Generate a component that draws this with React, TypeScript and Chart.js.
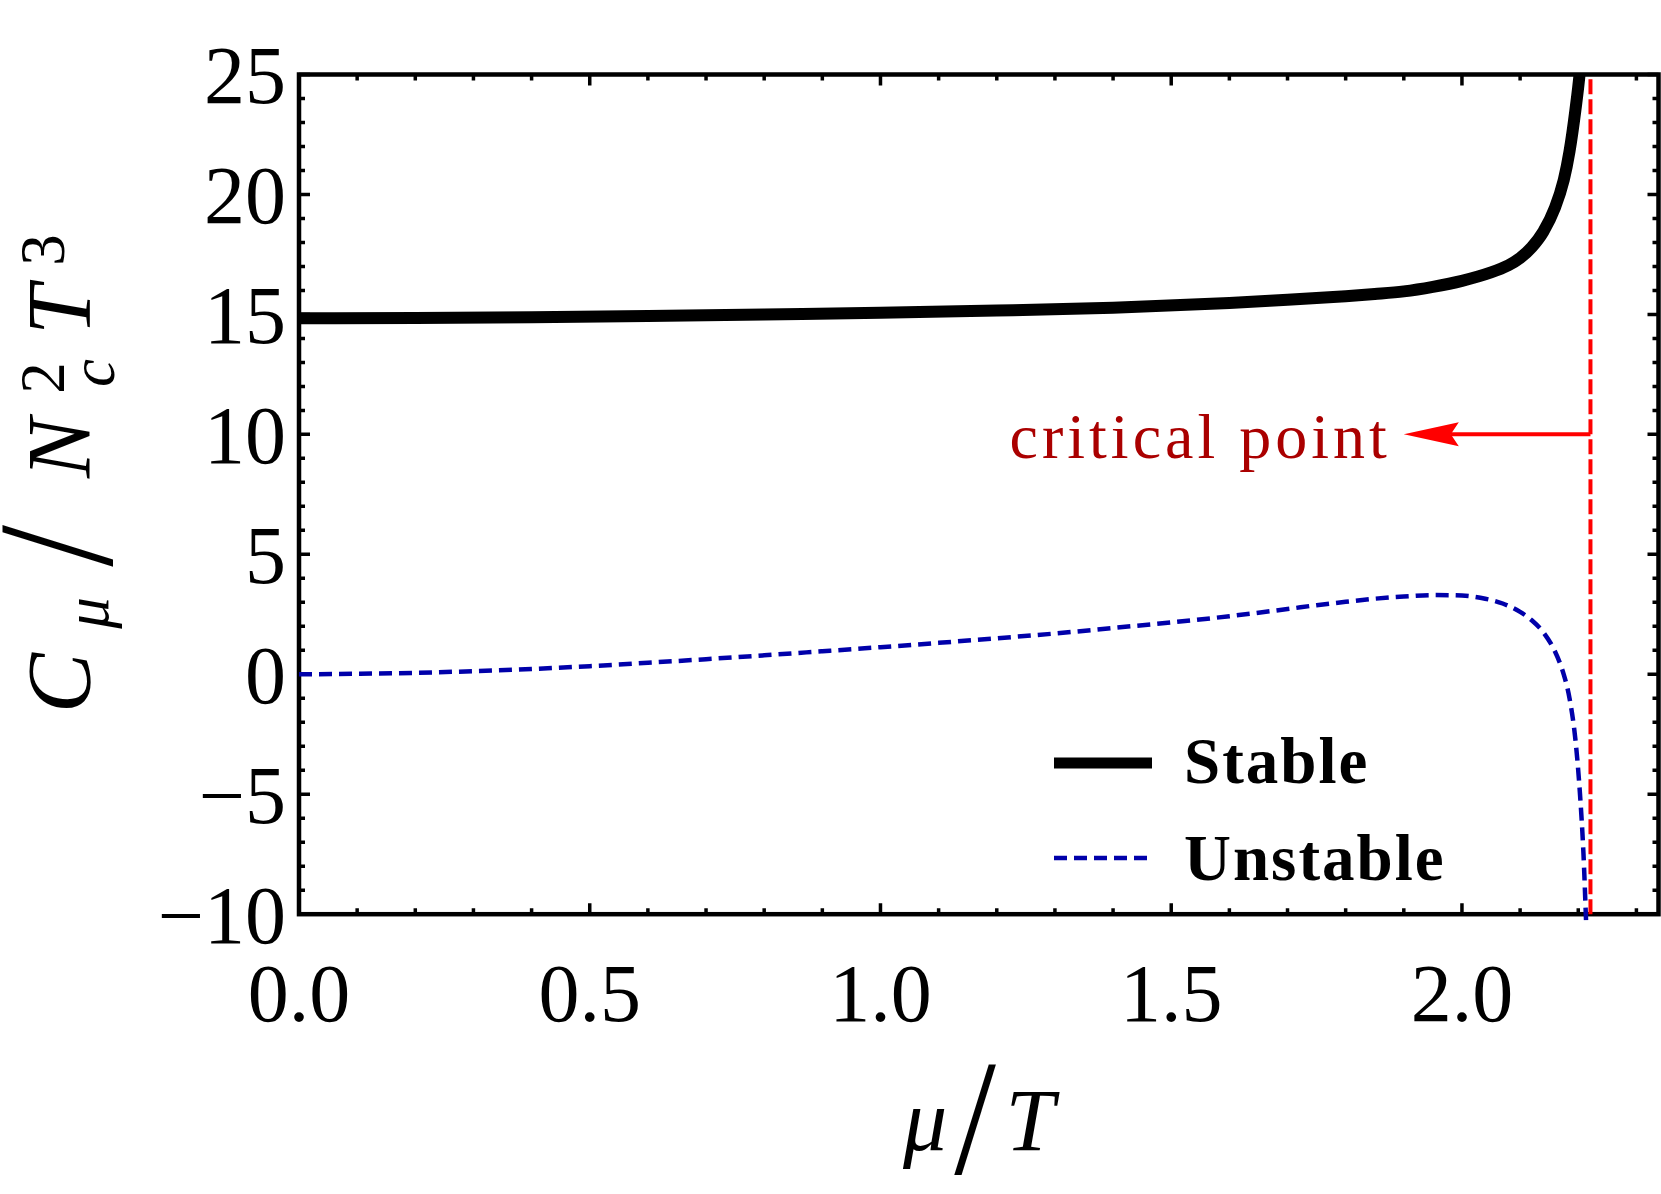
import React, { useEffect, useRef } from "react";
import { Chart, registerables } from "chart.js";

Chart.register(...registerables);

// ---------------- data ----------------
const stableMu = [0, 0.2, 0.4, 0.6, 0.8, 1.0, 1.2, 1.4, 1.6, 1.7, 1.8, 1.85, 1.9, 1.95, 2.0, 2.05, 2.08, 2.1, 2.12, 2.14, 2.16, 2.175, 2.185, 2.195, 2.203, 2.21];
const stableC = [14.84, 14.85, 14.88, 14.93, 15.0, 15.07, 15.16, 15.28, 15.48, 15.61, 15.76, 15.85, 15.96, 16.15, 16.4, 16.75, 17.05, 17.35, 17.8, 18.45, 19.45, 20.6, 21.8, 23.5, 25.2, 27.5];

const unstableMu = [0, 0.1, 0.2, 0.3, 0.4, 0.5, 0.6, 0.7, 0.8, 0.9, 1.0, 1.1, 1.2, 1.3, 1.4, 1.5, 1.6, 1.7, 1.75, 1.8, 1.85, 1.9, 1.95, 2.0, 2.04, 2.07, 2.1, 2.12, 2.14, 2.16, 2.175, 2.185, 2.195, 2.203, 2.209, 2.213, 2.216];
const unstableC = [0, 0.02, 0.06, 0.13, 0.22, 0.34, 0.48, 0.63, 0.79, 0.96, 1.13, 1.31, 1.5, 1.7, 1.93, 2.16, 2.42, 2.72, 2.88, 3.02, 3.15, 3.24, 3.3, 3.28, 3.15, 2.95, 2.6, 2.25, 1.75, 0.95, 0.0, -1.0, -2.7, -5.0, -7.5, -10, -12];

const criticalMu = 2.221;
const arrowValue = 10;
const arrowTipMu = 1.9;

const xMin = 0;
const xMax = 2.338;
const yMin = -10;
const yMax = 25;
const xStep = 0.5;
const yStep = 5;
const xMinorStep = 0.1;
const yMinorStep = 1;

const legendLabels = ["Stable", "Unstable"];
const annotationText = "critical point";

// ---------------- styles ----------------
const SERIF = '"Liberation Serif"';
const BLUE = "#0000AA";
const RED = "#FF0000";
const DARKRED = "#AA0000";

const framePlugin = {
  id: "frameTicks",
  beforeDatasetsDraw(chart: any) {
    const { ctx, chartArea: a, scales } = chart;
    const x = scales.x;
    const y = scales.y;
    ctx.save();
    ctx.strokeStyle = "#000";
    ctx.lineCap = "butt";
    ctx.lineWidth = 3.5;
    const nx = Math.floor((xMax - xMin) / xMinorStep + 1e-6);
    for (let i = 0; i <= nx; i++) {
      const v = xMin + i * xMinorStep;
      const px = x.getPixelForValue(v);
      const major = Math.abs(v / xStep - Math.round(v / xStep)) < 1e-6;
      const len = major ? 11 : 6;
      ctx.beginPath();
      ctx.moveTo(px, a.bottom);
      ctx.lineTo(px, a.bottom - len);
      ctx.moveTo(px, a.top);
      ctx.lineTo(px, a.top + len);
      ctx.stroke();
    }
    const ny = Math.round((yMax - yMin) / yMinorStep);
    for (let i = 0; i <= ny; i++) {
      const v = yMin + i * yMinorStep;
      const py = y.getPixelForValue(v);
      const major = v % yStep === 0;
      const len = major ? 11 : 6;
      ctx.beginPath();
      ctx.moveTo(a.left, py);
      ctx.lineTo(a.left + len, py);
      ctx.moveTo(a.right, py);
      ctx.lineTo(a.right - len, py);
      ctx.stroke();
    }
    ctx.lineWidth = 4.5;
    ctx.strokeRect(a.left, a.top, a.right - a.left, a.bottom - a.top);
    ctx.restore();
  },
};

const decorPlugin = {
  id: "decor",
  afterDatasetsDraw(chart: any) {
    const { ctx, scales } = chart;
    const x = scales.x;
    const y = scales.y;
    ctx.save();

    // arrow
    const ay = y.getPixelForValue(arrowValue);
    const x0 = x.getPixelForValue(criticalMu);
    const tip = x.getPixelForValue(arrowTipMu);
    const headLen = 55;
    const headHalf = 12;
    const notch = 8;
    ctx.strokeStyle = RED;
    ctx.fillStyle = RED;
    ctx.lineWidth = 4;
    ctx.beginPath();
    ctx.moveTo(x0, ay);
    ctx.lineTo(tip + headLen - notch, ay);
    ctx.stroke();
    ctx.beginPath();
    ctx.moveTo(tip, ay);
    ctx.lineTo(tip + headLen, ay - headHalf);
    ctx.lineTo(tip + headLen - notch, ay);
    ctx.lineTo(tip + headLen, ay + headHalf);
    ctx.closePath();
    ctx.fill();

    // annotation text
    ctx.fillStyle = DARKRED;
    ctx.font = `64px ${SERIF}`;
    (ctx as any).letterSpacing = "4px";
    ctx.textAlign = "right";
    ctx.textBaseline = "alphabetic";
    ctx.fillText(annotationText, tip - 13, ay + 24);
    (ctx as any).letterSpacing = "0px";

    // legend
    ctx.strokeStyle = "#000";
    ctx.lineWidth = 11;
    ctx.lineCap = "butt";
    ctx.beginPath();
    ctx.moveTo(1054, 763);
    ctx.lineTo(1152, 763);
    ctx.stroke();
    ctx.strokeStyle = BLUE;
    ctx.lineWidth = 4.5;
    ctx.setLineDash([13, 7]);
    ctx.beginPath();
    ctx.moveTo(1054, 858);
    ctx.lineTo(1148, 858);
    ctx.stroke();
    ctx.setLineDash([]);
    ctx.fillStyle = "#000";
    ctx.font = `bold 65px ${SERIF}`;
    (ctx as any).letterSpacing = "2px";
    ctx.textAlign = "left";
    ctx.fillText(legendLabels[0], 1184, 783);
    ctx.fillText(legendLabels[1], 1184, 880);
    (ctx as any).letterSpacing = "0px";

    // axis titles
    const big = `italic 90px ${SERIF}`;
    const small = `italic 63px ${SERIF}`;
    const smallUp = `63px ${SERIF}`;
    const slash = `125px ${SERIF}`;
    const yParts = [
      { t: "C", f: big, c: 683, b: 90, sx: 1, sy: 1 },
      { t: "\u03BC", f: small, c: 613, b: 108, sx: 1, sy: 1 },
      { t: "/", f: slash, c: 546, b: 111, sx: 1.2, sy: 1.32 },
      { t: "N", f: big, c: 448, b: 90, sx: 1, sy: 1 },
      { t: "c", f: small, c: 373, b: 114, sx: 1, sy: 1 },
      { t: "2", f: smallUp, c: 378, b: 64, sx: 1, sy: 1 },
      { t: "T", f: big, c: 310, b: 90, sx: 1, sy: 1 },
      { t: "3", f: smallUp, c: 250, b: 64, sx: 1, sy: 1 },
    ];
    ctx.fillStyle = "#000";
    ctx.textAlign = "center";
    ctx.textBaseline = "alphabetic";
    for (const p of yParts) {
      ctx.save();
      ctx.translate(p.b, p.c);
      ctx.rotate(-Math.PI / 2);
      ctx.scale(p.sx, p.sy);
      ctx.font = p.f;
      ctx.fillText(p.t, 0, 0);
      ctx.restore();
    }
    const xParts = [
      { t: "\u03BC", f: `italic 88px ${SERIF}`, c: 925, b: 1150, sx: 1, sy: 1 },
      { t: "/", f: slash, c: 975, b: 1173, sx: 1.2, sy: 1.32 },
      { t: "T", f: `italic 88px ${SERIF}`, c: 1030, b: 1150, sx: 1, sy: 1 },
    ];
    for (const p of xParts) {
      ctx.save();
      ctx.translate(p.c, p.b);
      ctx.scale(p.sx, p.sy);
      ctx.font = p.f;
      ctx.fillText(p.t, 0, 0);
      ctx.restore();
    }
    ctx.restore();
  },
};

export default function App() {
  const ref = useRef<HTMLCanvasElement | null>(null);
  useEffect(() => {
    if (!ref.current) return;
    const stable = stableMu.map((m, i) => ({ x: m, y: stableC[i] }));
    const unstable = unstableMu.map((m, i) => ({ x: m, y: unstableC[i] }));
    const critical = [
      { x: criticalMu, y: yMin },
      { x: criticalMu, y: yMax },
    ];
    const chart = new Chart(ref.current, {
      type: "line",
      data: {
        datasets: [
          {
            label: legendLabels[1],
            data: unstable,
            borderColor: BLUE,
            borderWidth: 4.5,
            borderDash: [13, 7],
            pointRadius: 0,
            cubicInterpolationMode: "monotone",
            fill: false,
            clip: { left: 0, top: 0, right: 0, bottom: 6 } as any,
          },
          {
            label: "critical",
            data: critical,
            borderColor: RED,
            borderWidth: 4,
            borderDash: [15, 5],
            pointRadius: 0,
            fill: false,
            clip: { left: 0, top: 0, right: 0, bottom: 6 } as any,
          },
          {
            label: legendLabels[0],
            data: stable,
            borderColor: "#000",
            borderWidth: 12,
            pointRadius: 0,
            cubicInterpolationMode: "monotone",
            fill: false,
            clip: 0 as any,
          },
        ],
      },
      options: {
        responsive: false,
        animation: false,
        layout: { padding: { top: 74.5, right: 2.5, left: 0, bottom: 0 } },
        plugins: { legend: { display: false }, tooltip: { enabled: false } },
        scales: {
          x: {
            type: "linear",
            min: xMin,
            max: xMax,
            grid: { display: false, drawTicks: false },
            border: { display: false },
            ticks: {
              stepSize: xStep,
              includeBounds: false,
              autoSkip: false,
              maxRotation: 0,
              minRotation: 0,
              padding: 36,
              color: "#000",
              font: { family: "Liberation Serif", size: 82 },
              callback: (v: any) => Number(v).toFixed(1),
            },
            afterFit: (s: any) => {
              s.height = 279.8;
            },
          },
          y: {
            type: "linear",
            min: yMin,
            max: yMax,
            grid: { display: false, drawTicks: false },
            border: { display: false },
            ticks: {
              stepSize: yStep,
              includeBounds: false,
              autoSkip: false,
              padding: 13,
              labelOffset: 7,
              color: "#000",
              font: { family: "Liberation Serif", size: 82 },
              callback: (v: any) => (Number(v) < 0 ? "\u2212" + Math.abs(Number(v)) : String(v)),
            },
            afterFit: (s: any) => {
              s.width = 299;
            },
          },
        },
      },
      plugins: [framePlugin, decorPlugin],
    } as any);
    return () => chart.destroy();
  }, []);
  return (
    <div style={{ position: "absolute", left: 0, top: 0, width: 1661, height: 1194, background: "#fff" }}>
      <canvas ref={ref} width={1661} height={1194} style={{ display: "block" }} />
    </div>
  );
}
